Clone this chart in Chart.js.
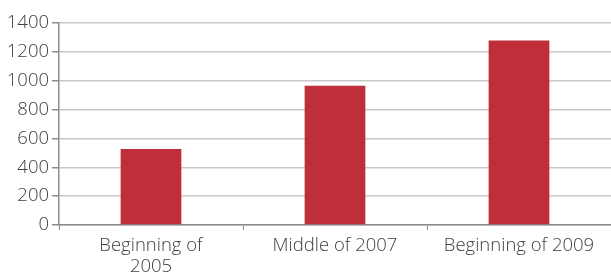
<!DOCTYPE html>
<html>
<head>
<meta charset="utf-8">
<script src="https://cdn.jsdelivr.net/npm/chart.js@4"></script>
<style>
  html, body { margin: 0; padding: 0; background: #fff; }
  #wrap { width: 611px; height: 279px; }
</style>
</head>
<body>
<div id="wrap"><canvas id="chart"></canvas></div>
<script>
const categories = [['Beginning of', '2005'], 'Middle of 2007', 'Beginning of 2009'];
const values = [527, 965, 1278];
const yTicks = [0, 200, 400, 600, 800, 1000, 1200, 1400];

const barColor = '#bf2f3a';
const axisColor = '#8c8c8c';
const gridColor = '#c8c8c8';
const textColor = '#404040';

Chart.defaults.font.family = '"Open Sans", "Noto Sans", sans-serif';
Chart.defaults.font.size = 18.5;
Chart.defaults.font.weight = 300;
Chart.defaults.color = textColor;

new Chart(document.getElementById('chart'), {
  type: 'bar',
  data: {
    labels: categories,
    datasets: [{
      data: values,
      backgroundColor: barColor,
      categoryPercentage: 1,
      barPercentage: 0.33
    }]
  },
  options: {
    responsive: true,
    maintainAspectRatio: false,
    animation: false,
    devicePixelRatio: 1,
    layout: { padding: { top: 23, right: 0, left: 0, bottom: 0 } },
    plugins: { legend: { display: false }, tooltip: { enabled: false } },
    scales: {
      x: {
        grid: {
          offset: true,
          drawOnChartArea: false,
          tickLength: 5,
          tickColor: axisColor
        },
        border: { color: axisColor, width: 1.5 },
        ticks: { padding: 5, maxRotation: 0, font: { lineHeight: 1.15 } },
        afterFit: function (scale) { scale.height = 54; }
      },
      y: {
        min: 0,
        max: 1400,
        afterBuildTicks: function (scale) {
          scale.ticks = yTicks.map(v => ({ value: v }));
        },
        grid: {
          color: gridColor,
          lineWidth: 1.5,
          tickLength: 7,
          tickColor: axisColor
        },
        border: { color: axisColor, width: 1.5 },
        ticks: {
          padding: 3,
          callback: function (v) { return String(v); }
        },
        afterFit: function (scale) { scale.width = 59; }
      }
    }
  }
});
</script>
</body>
</html>
